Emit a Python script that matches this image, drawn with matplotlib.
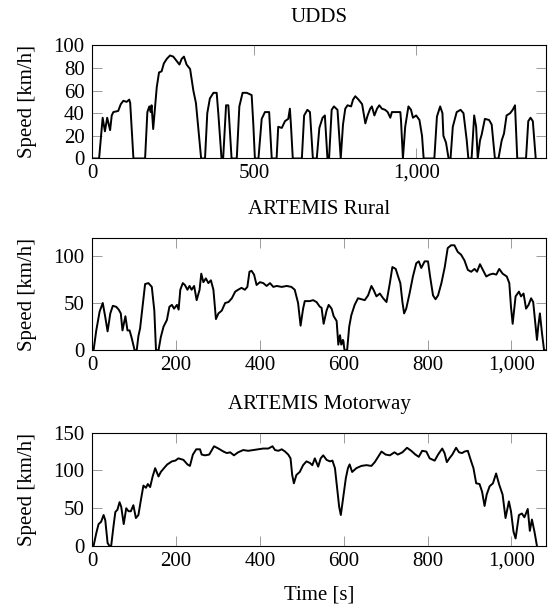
import matplotlib
matplotlib.use("Agg")
import matplotlib.pyplot as plt
from matplotlib.ticker import FuncFormatter

plt.rcParams["font.family"] = ["Liberation Serif", "DejaVu Serif"]
plt.rcParams["font.size"] = 15
plt.rcParams["axes.titlesize"] = 15
plt.rcParams["axes.labelsize"] = 15
plt.rcParams["xtick.labelsize"] = 15
plt.rcParams["ytick.labelsize"] = 15

# UDDS cycle (time [s], speed [km/h])
udds_t = [0, 21, 32, 39, 46, 55, 60, 65, 80, 88,
          96, 106, 114, 117, 127, 163, 170, 176, 180, 183,
          188, 194, 199, 206, 214, 221, 230, 240, 250, 258,
          269, 276, 283, 291, 302, 312, 320, 327, 336, 348,
          355, 363, 374, 384, 389, 399, 404, 413, 420, 430,
          446, 454, 464, 477, 492, 497, 502, 513, 523, 533,
          546, 554, 569, 574, 585, 595, 605, 610, 613, 619,
          647, 654, 664, 672, 681, 693, 701, 711, 718, 726,
          731, 739, 746, 757, 767, 774, 781, 788, 799, 805,
          812, 822, 833, 843, 850, 858, 863, 871, 879, 886,
          894, 904, 912, 920, 925, 938, 951, 953, 959, 966,
          976, 984, 990, 1000, 1010, 1018, 1023, 1056, 1064, 1074,
          1081, 1084, 1092, 1100, 1106, 1113, 1125, 1137, 1146, 1156,
          1161, 1171, 1179, 1185, 1190, 1197, 1202, 1212, 1225, 1233,
          1243, 1254, 1264, 1271, 1279, 1290, 1298, 1305, 1312, 1339,
          1346, 1353, 1360, 1369]
udds_v = [0, 0, 36, 24, 36, 25, 38, 41, 42, 48,
          51, 50, 52, 49, 0, 0, 41, 46, 41, 47,
          26, 46, 63, 76, 77, 84, 88, 91, 90, 87,
          83, 88, 90, 83, 79, 60, 49, 28, 0, 0,
          40, 53, 58, 58, 40, 0, 0, 47, 47, 0,
          0, 46, 58, 58, 56, 31, 0, 0, 35, 41,
          41, 0, 0, 28, 27, 33, 35, 44, 31, 0,
          0, 38, 43, 41, 0, 0, 27, 36, 38, 0,
          0, 43, 46, 43, 0, 30, 44, 47, 46, 52,
          55, 52, 48, 31, 38, 44, 46, 38, 44, 47,
          44, 43, 41, 36, 41, 41, 41, 34, 0, 28,
          46, 43, 36, 38, 34, 20, 0, 0, 37, 46,
          40, 20, 14, 0, 0, 28, 41, 43, 40, 16,
          0, 0, 38, 28, 0, 16, 21, 35, 34, 30,
          0, 0, 16, 22, 38, 40, 43, 47, 0, 0,
          33, 36, 33, 0]

# ARTEMIS Rural
rural_t = [0, 3, 9.5, 17.5, 25, 31, 36.5, 43, 49, 57,
           63, 68, 72, 79, 84, 89, 94, 101, 106, 110,
           114, 121, 126, 134, 142, 148, 152, 158, 163.5, 170,
           178, 184, 190, 195, 202, 206, 210, 216, 221, 227,
           232, 237, 243, 249, 256, 260, 265, 271, 277, 283,
           289, 295, 301, 309, 317, 325, 333, 341, 348, 356,
           364, 370, 375, 380, 386, 392, 400, 408, 416, 424,
           432, 440, 452, 464, 475, 483, 491, 497, 503, 507,
           519, 527, 535, 543, 547, 552, 559, 564, 571, 576,
           583, 587, 591, 594, 598, 602, 608, 613, 618, 626,
           634, 642, 650, 658, 666, 671, 678, 686, 694, 702,
           710, 716, 724, 729, 735, 740, 744, 749, 757, 765,
           773, 779, 785, 793, 801, 806, 813, 819, 825, 833,
           841, 848, 856, 864, 872, 880, 888, 896, 904, 912,
           918, 925, 932, 940, 948, 956, 964, 971, 979, 989,
           995, 999, 1003, 1010, 1018, 1023, 1029, 1035, 1041, 1047,
           1052, 1061, 1064, 1068, 1073, 1078, 1082]
rural_v = [0, 0, 21, 41, 50, 35, 20, 39, 47, 46,
           43, 39, 21, 36, 21, 21, 13, 0, 0, 15,
           23, 51, 70, 71, 67, 42, 0, 0, 14, 25,
           32, 46, 48, 44, 48, 43, 64, 71, 69, 64,
           68, 64, 68, 53, 64, 81, 72, 76, 71, 74,
           64, 33, 39, 42, 50, 51, 55, 62, 64, 66,
           64, 67, 83, 84, 80, 69, 72, 71, 68, 71,
           67, 68, 67, 68, 67, 64, 50, 26, 44, 52,
           52, 53, 51, 46, 45, 28, 42, 48, 44, 36,
           31, 6, 16, 6, 11, 0, 0, 25, 37, 48,
           55, 54, 53, 58, 68, 64, 57, 60, 55, 51,
           71, 88, 86, 79, 71, 51, 39, 44, 60, 78,
           92, 94, 87, 94, 94, 78, 58, 54, 58, 71,
           88, 108, 111, 111, 104, 101, 95, 85, 83, 86,
           83, 91, 85, 78, 80, 81, 80, 86, 81, 78,
           71, 46, 28, 57, 62, 57, 60, 44, 48, 55,
           51, 11, 25, 39, 18, 0, 0]

# ARTEMIS Motorway
motorway_t = [0, 3, 9.5, 15, 21, 27, 31, 36.5, 41, 45,
              51, 55, 60, 65, 69, 75, 81, 86.5, 92, 98,
              104, 110, 116, 122, 128, 132.5, 138, 144, 150, 158,
              163.5, 171, 179, 190, 198, 205.5, 217.5, 227, 233, 240,
              248, 257, 261, 269, 279, 290.5, 301, 313, 321, 329,
              338, 348, 360, 372, 384, 396, 408, 420, 430, 436,
              444, 452, 460, 467.5, 473, 477, 481, 487, 495, 503,
              511, 519, 525, 531, 539, 545, 551, 559, 567, 573,
              579, 584, 589, 593, 598, 605, 610, 614, 620, 630,
              642, 654, 666, 674, 682, 690, 700, 710, 721, 729,
              740, 751, 761, 771, 779, 787, 797, 805, 817, 825,
              835, 840.5, 846, 852, 859, 868, 875, 882.5, 888, 896,
              904, 909.5, 916, 924, 930, 936, 941, 948, 956, 963.5,
              971, 979, 986, 994, 999, 1005, 1010, 1018, 1025, 1031,
              1039, 1044, 1049, 1055, 1061]
motorway_v = [0, 0, 17, 29, 32, 41, 34, 4, 0, 0,
              28, 45, 48, 58, 52, 29, 50, 46, 46, 54,
              37, 41, 61, 80, 77, 82, 78, 92, 103, 92,
              98, 103, 108, 112, 113, 116, 114, 108, 106, 121,
              128, 128, 121, 120, 121, 132, 129, 125, 123, 124,
              120, 124, 127, 126, 127, 128, 129, 129, 132, 127,
              126, 128, 125, 121, 116, 94, 83, 94, 98, 107,
              112, 110, 107, 116, 105, 116, 120, 114, 112, 113,
              103, 78, 52, 41, 61, 90, 103, 108, 98, 103,
              106, 107, 106, 111, 118, 125, 121, 120, 124, 121,
              124, 130, 126, 121, 118, 126, 125, 116, 113, 121,
              129, 123, 111, 116, 121, 130, 124, 123, 125, 126,
              112, 103, 83, 82, 72, 53, 68, 79, 83, 96,
              81, 68, 37, 59, 46, 19, 10, 41, 43, 38,
              49, 20, 35, 19, 0]

titles = ["UDDS", "ARTEMIS Rural", "ARTEMIS Motorway"]
series = [(udds_t, udds_v), (rural_t, rural_v), (motorway_t, motorway_v)]
xlims = [1400, 1082, 1082]
ylims = [100, 119, 150]
xticks = [[0, 500, 1000], range(0, 1001, 200), range(0, 1001, 200)]
yticks = [range(0, 101, 20), [0, 50, 100], [0, 50, 100, 150]]

fig = plt.figure(figsize=(5.51, 6.07), dpi=100)
boxes = [[0.1675, 0.7389, 0.823, 0.1865],
         [0.1675, 0.4229, 0.823, 0.1855],
         [0.1675, 0.1005, 0.823, 0.1867]]

comma = FuncFormatter(lambda x, pos: f"{x:,.0f}")

for i in range(3):
    ax = fig.add_axes(boxes[i])
    t, v = series[i]
    ax.plot(t, v, color="black", lw=1.4, solid_joinstyle="round")
    ax.set_xlim(0, xlims[i])
    ax.set_ylim(0, ylims[i])
    ax.set_xticks(list(xticks[i]))
    ax.set_yticks(list(yticks[i]))
    ax.xaxis.set_major_formatter(comma)
    ax.tick_params(direction="in", length=7.5, width=0.6, color="#8c8c8c",
                   top=True, right=True)
    ax.tick_params(axis="x", pad=4)
    ax.tick_params(axis="y", pad=5.5)
    for s in ax.spines.values():
        s.set_linewidth(0.8)
    ax.set_title(titles[i], pad=17)
    ax.set_ylabel("Speed [km/h]")
    ax.yaxis.set_label_coords(-0.122, 0.5)
    if i == 2:
        ax.set_xlabel("Time [s]", labelpad=11)

fig.savefig("out.png", dpi=100)
